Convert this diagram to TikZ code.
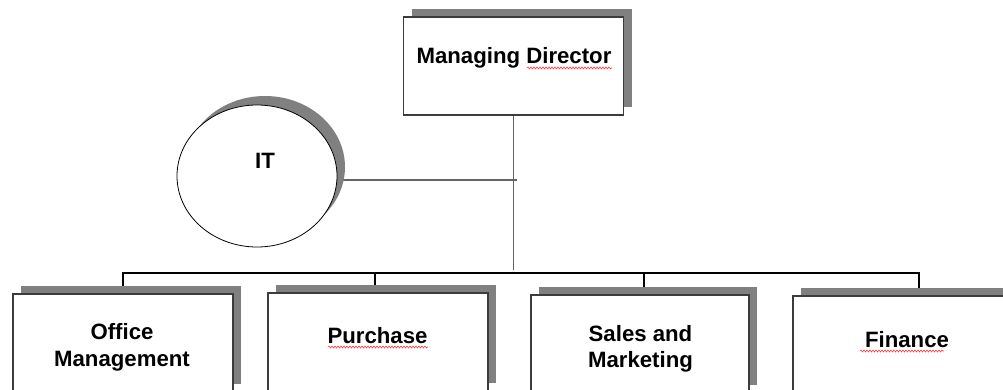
\documentclass[tikz,border=0pt]{standalone}
\usepackage{fontspec}
\setmainfont{Liberation Sans}
\usetikzlibrary{shadows,shapes.geometric,backgrounds,decorations.pathmorphing}
\definecolor{shadowgray}{RGB}{128,128,128}
\definecolor{linegray}{RGB}{100,100,100}
\definecolor{boxborder}{RGB}{60,60,60}
\begin{document}
\begin{tikzpicture}[x=1pt,y=-1pt,
  orgbox/.style={draw=boxborder, line width=1.3pt, fill=white, minimum width=220pt,
    minimum height=98pt, inner sep=0pt,
    general shadow={fill=shadowgray, shadow xshift=8pt, shadow yshift=8pt}},
  itell/.style={ellipse, draw=black, line width=0.8pt, fill=white, minimum width=160pt,
    minimum height=142pt, inner sep=0pt,
    general shadow={fill=shadowgray, shadow xshift=8pt, shadow yshift=9pt}},
  lbl/.style={font=\bfseries\fontsize{22.2}{26.5}\selectfont, inner sep=0pt, anchor=base},
  thinline/.style={draw=linegray, line width=1.1pt},
  busline/.style={draw=black, line width=2pt},
  squiggle/.style={draw=red!75, line width=0.6pt, decorate,
    decoration={snake, amplitude=1pt, segment length=3pt}}]
\useasboundingbox (0,0) rectangle (1003,390);
\clip (0,0) rectangle (1003,390);
% boxes
\node[orgbox] (dir) at (513.5,66) {};
\node[lbl] (dirtext) at (514,64) {Managing Director};
\node[itell] (it) at (257,176) {};
\node[lbl] (ittext) at (265,168) {IT};
\node[orgbox] (office) at (123,343) {};
\node[lbl, align=center] (officetext) at (122,366) {Office\\Management};
\node[orgbox] (purchase) at (378,342) {};
\node[lbl] (purchasetext) at (377.5,343) {Purchase};
\node[orgbox, minimum width=218pt] (sales) at (640,344) {};
\node[lbl, align=center] (salestext) at (640.5,367.5) {Sales and\\Marketing};
\node[orgbox] (finance) at (903,345) {};
\node[lbl] (financetext) at (907,347) {Finance};
% spelling marks
\draw[squiggle] (527,68) -- (612,68);
\draw[squiggle] (328,347) -- (428,347);
\draw[squiggle] (860,351) -- (944,351);
% connectors
\begin{scope}[on background layer]
  \fill[white] (0,0) rectangle (1003,390);
  \coordinate (junc) at (513.5,270);
  \coordinate (itend) at (517,180);
  \draw[thinline] (dir.south) -- (junc);
  \draw[thinline] (it.east |- itend) -- (itend);
  \coordinate (bo) at (123,273);
  \coordinate (bp) at (374.5,273);
  \coordinate (bs) at (644,273);
  \coordinate (bf) at (919,273);
  \draw[busline] ([xshift=-1pt]bo) -- ([xshift=1pt]bf);
  \draw[busline] (bo) -- (bo |- office.north);
  \draw[busline] (bp) -- (bp |- purchase.north);
  \draw[busline] (bs) -- (bs |- sales.north);
  \draw[busline] (bf) -- (bf |- finance.north);
\end{scope}
\end{tikzpicture}
\end{document}
